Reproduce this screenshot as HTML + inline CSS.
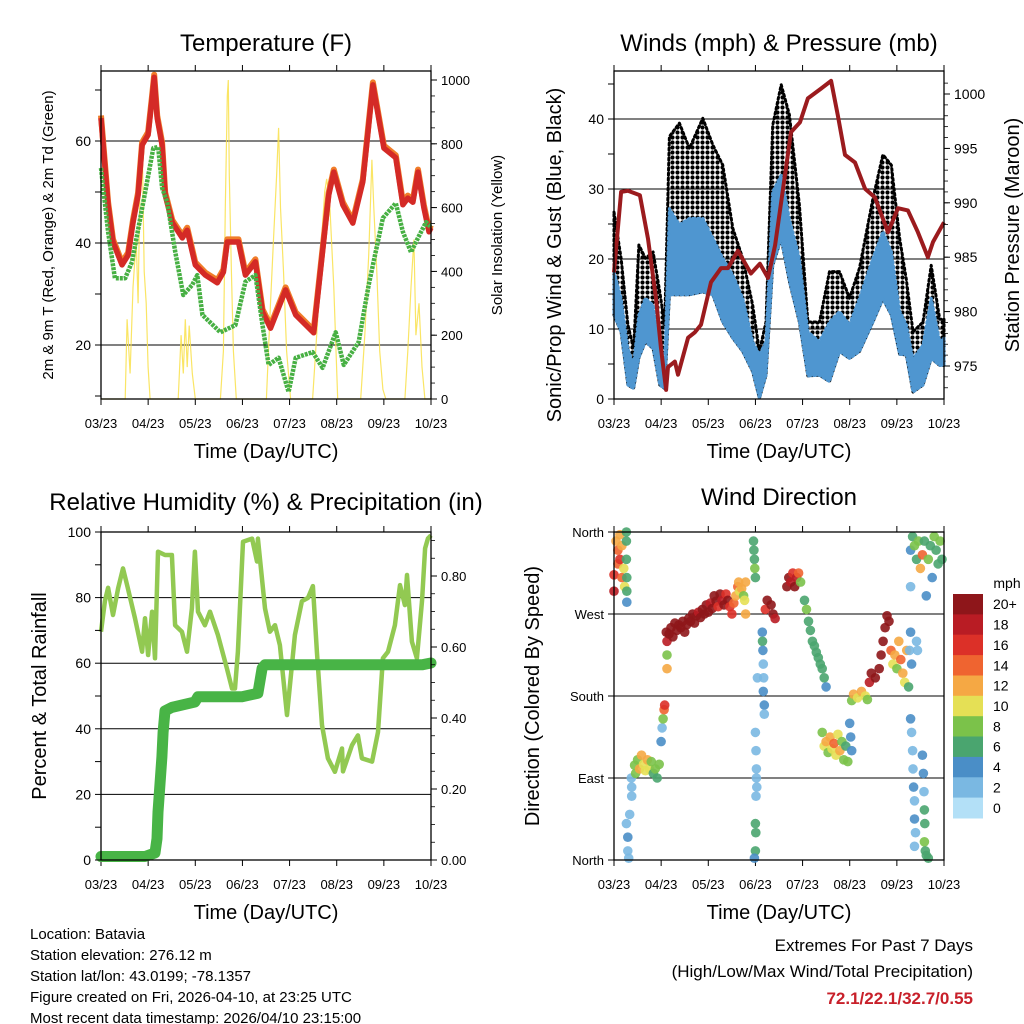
<!DOCTYPE html>
<html><head><meta charset="utf-8">
<style>
html,body{margin:0;padding:0;background:#fff;}
svg{display:block;font-family:"Liberation Sans",Arial,sans-serif;}
</style></head>
<body>
<svg id="chart" width="1024" height="1024" viewBox="0 0 1024 1024" xmlns="http://www.w3.org/2000/svg">
<defs>
<pattern id="dotpat" width="5" height="5" patternUnits="userSpaceOnUse">
<circle cx="2.5" cy="2.5" r="2.1" fill="#000"/>
</pattern>
</defs>
<rect x="0" y="0" width="1024" height="1024" fill="#fff"/>
<g id="layer"></g>
<g font-size="15" fill="#000">
<text x="30" y="939">Location: Batavia</text>
<text x="30" y="960">Station elevation: 276.12 m</text>
<text x="30" y="981">Station lat/lon: 43.0199; -78.1357</text>
<text x="30" y="1002">Figure created on Fri, 2026-04-10, at 23:25 UTC</text>
<text x="30" y="1023">Most recent data timestamp: 2026/04/10 23:15:00</text>
</g>
<g text-anchor="end">
<text x="973" y="951" font-size="17">Extremes For Past 7 Days</text>
<text x="973" y="977" font-size="17">(High/Low/Max Wind/Total Precipitation)</text>
<text x="973" y="1004" font-size="17" font-weight="bold" fill="#c8202a">72.1/22.1/32.7/0.55</text>
</g>
</svg>
<script>
// ---------- DATA (hours since start, 0..168) ----------
const dayLabels = ["03/23","04/23","05/23","06/23","07/23","08/23","09/23","10/23"];
const tempHours = [0,3.6,6.1,10.7,13.8,16.3,18.9,20.9,24,26,27.1,28.6,31.1,32.7,36.3,41.4,43.9,48,53.1,59.2,62.3,64.3,70,73.5,78.6,82.2,86.3,94,99.1,108.3,115.9,118.5,123.1,128.2,133.3,138.4,144,150.1,153.7,156.2,158.8,161.4,164.4,167,168];
const tempValues = [64.5,47.5,40.2,35.7,37.6,44,49.4,59.2,61.2,68.4,72.5,64.5,59.2,49.4,44,41,42.5,35.7,33.7,32.2,34.3,40.2,40.2,33.7,36.3,26.5,23.3,30.8,25.9,22.4,49.4,53.9,47.5,43.9,52,71,58.6,56.7,47.5,48.8,48,53.9,46.9,42.2,43];
const dewHours = [0,3.6,7.1,12.3,15.8,22.5,26.6,29.1,31.1,33.7,37.8,41.9,46.5,49,51.6,60.8,68.4,73.5,78.6,82.2,85.3,90.4,95.5,99.1,107.7,112.8,119.5,123.6,131.2,136.3,140.9,143.5,150.1,153.7,157.8,161.4,165.5,167,168];
const dewValues = [54.7,42.2,33.1,33.1,36.3,50,58.6,58.8,50.8,48,38.2,29.8,31.8,33.7,25.9,22.5,23.9,32.4,33.7,23.9,16.1,17.5,10.8,17.5,18.6,15.5,22.5,16.1,20.6,31.8,40.2,44.9,47.8,42.2,38.2,41,44.1,43.5,43];
const solarHours = [0,12.3,13.3,14.8,16.3,17.9,18.9,19.9,20.9,22,23,24,25,39.3,40.8,41.9,42.9,43.9,44.9,46.5,48,60.8,62.3,63.3,64.3,64.8,65.3,66.4,67.4,68.9,84.2,86.3,87.8,89.4,90.4,91.4,92.9,94.5,96.5,107.7,110.3,112.3,113.9,114.9,116.4,118.5,120.5,132.2,134.3,136.3,137.9,138.9,140.4,141.9,143.5,145,154.7,156.2,157.8,159.3,160.3,161.9,163.4,164.9,168];
const solarValues = [0,0,250,80,350,500,300,700,820,400,300,100,0,0,200,80,250,100,230,80,0,0,150,600,950,1000,700,400,150,0,0,300,500,700,850,600,400,150,0,0,250,500,650,690,620,350,0,0,200,450,750,600,400,150,30,0,0,150,350,500,200,300,100,0,0];

const windHours = [0,3.6,7.1,10,12.7,16,19.9,23.3,25.8,28.2,33.3,38.4,45.2,50.3,55.4,60.5,65.5,70.6,74,77.4,80.8,85.1,89.3,94.4,98.7,104.6,109.7,114.8,119.9,125,131.8,136.9,141.2,145.4,148.8,152.2,157.3,161.5,165.8,168];
const windLow  = [12,9.6,2,1.5,5.9,8.2,7.2,2,1.5,14.9,14.9,14.9,15.3,14.9,11,8.7,6.8,3.9,0.1,3.4,19.1,22.9,16.8,11,3.3,3.4,2.5,6.8,5.8,6.8,11,14.3,12,6.4,6.3,1,2,5.8,4.8,4.8];
const windHigh = [18.2,14.4,7.2,4.9,12,14.4,13.4,7.2,4.9,27.2,24.9,25.8,25.8,23,20.1,17.7,14.4,8.2,6.3,8.2,29.6,32,25.7,20.1,9.6,8.2,11,12.5,10.6,14.4,20.1,23.9,21,12.6,10.6,5.7,7.7,14.4,8.2,8.7];
const gustHigh = [26.7,20.1,10.6,7.2,22,20.1,21,15.3,10.6,37.5,39.4,35.8,40.1,36.3,33.4,24.4,20.1,13.4,6.8,11,39.1,44.9,40.6,27.7,11,11,18.2,18.2,14.4,18.7,28.6,34.9,33.4,23,17.1,9.6,11,19.1,11.4,11.4];
const presHours = [0,3.6,7.1,13.2,17.3,21.4,23.9,26.5,27.5,31,32.6,37.7,41.2,44.3,49.4,54.5,58,63.1,69.7,74.3,78.4,82,87,90.1,94.7,98.7,105.4,110.5,114,117.6,122.7,127.8,132.8,139.5,144.6,149.6,154.7,159.8,162.4,166.4,168];
const presValues = [983.6,991,991.1,990.7,986.7,981.2,976.7,972.8,974.9,975.4,974.2,977.6,978.1,978.8,982.7,984,984,985.6,983.5,984.4,983.1,986.1,992.5,996.5,997.4,999.6,1000.5,1001.2,998,994.4,993.7,991.3,990.5,987.3,989.5,989.3,987.3,985,986.4,987.7,988.2];

const rhHours = [0,2,3.6,6.1,8.7,11.2,13.7,17.3,20.9,22.4,24,26,27.5,29,32.6,36.1,37.7,41.2,43.8,46.3,47.8,49.4,52.9,55.5,59.5,64.1,66.7,68.2,69.7,72.3,76.9,79.4,79.9,83.5,86,88.6,91.1,94.7,98.7,102.3,105.4,107.9,109.9,112.5,115.5,119.1,122.7,123.2,127.8,130.8,132.8,138,141,143.5,146.1,149.6,152.2,154.7,155.8,158.3,160.8,163.4,165,166.4,168];
const rhValues = [69.6,78.9,83,74.7,82.8,88.9,82.8,73.7,63.5,73.7,62.5,75.7,61.5,94,93,93,71.6,69.6,63.5,76.7,94,75.7,71.6,75.7,68.6,58.4,52.3,52.3,63.5,97,98,91,98,76.7,69.6,71.6,65.5,44.2,68.6,78.9,79.9,83.5,63.5,41.1,31,26.9,34,27,35,38,31,30,39,61.5,63.5,71.6,83.8,77.7,86.9,66.6,61.5,78.9,95,98,99];
const rainHours = [0,22.4,27.5,28.5,29,31,31.6,32.6,36.1,47.8,49.4,71.8,79.9,82,83.5,163.4,168];
const rainValues = [0.01,0.01,0.02,0.06,0.135,0.29,0.36,0.42,0.43,0.445,0.46,0.46,0.47,0.54,0.55,0.55,0.555];

const dirHours = [0,0,1,2,2,3,3,4,4,5,5.4,6.3,6.3,6.5,6.5,6.5,6.3,
 6.3,7,7,7.5,8,8.8,9,9,
 10.5,11,12,13,14,15,16,17,18,19,20,21,22,23,24,24.5,25,25.5,25.8,
 26.6,27,27,27,28,29,30,31,32,33,34,35,36,37,38,39,40,41,42,43,44,45,46,47,48,49,50,51,52,53,54,55,56,57,58,59,60,61,62,63,63.5,64,65,66,66.5,67,67,
 71,71.2,71.5,71.7,72,72,72.3,72.5,72.5,72.7,72.3,72,72.2,72,71.5,73,75.5,75.6,75.8,76,76.2,76,76.5,76.5,77,78,80,81,82,
 88,89,90,91,92,93,94,95,97,98,99,100,101,102,103,104,105,106,107,108,
 106,107,108,109,110,111,112,113,114,115,116,117,118,119,120,120.5,121,
 121,122,124,126,128,129,130,131,133,135,136,137,138,139,140,141,142,143,144,145,146,147,148,149,150,
 150.5,151,151.5,154,154.5,151,151.5,152,152.2,152.5,153,153,153.5,153,157,157.5,157.8,158,158.2,158,158.5,159,160,151,151,152,153,154,155,156,157,158,159,160,161,162,163,164,165,166,167];
const dirDegrees = [313,295,350,340,325,357,330,310,345,320,300,350,330,310,295,283,360,
 40,25,10,2,50,90,70,80,
 104,95,110,100,115,105,98,110,100,108,95,100,90,105,130,145,155,165,170,
 250,240,225,210,248,255,245,260,252,258,255,262,250,258,265,262,270,260,268,272,266,275,270,280,272,282,276,290,284,278,292,285,280,292,285,278,270,282,290,300,305,295,298,290,285,270,305,
 350,340,330,320,310,140,120,100,90,80,70,40,30,10,2,200,250,240,230,215,200,185,170,160,275,285,280,270,265,
 300,310,305,315,300,310,315,305,285,275,262,252,240,235,228,222,215,210,200,190,
 140,125,130,118,135,122,128,115,138,120,130,110,125,108,150,135,120,
 175,182,178,185,180,176,195,205,200,210,225,240,255,268,262,230,215,225,210,240,220,205,195,230,190,
 230,250,215,240,230,155,140,120,100,80,65,45,30,15,115,95,75,55,40,20,10,5,2,340,300,355,345,330,350,320,335,350,290,330,345,310,355,340,325,350,330];
const dirSpeeds = [17,18,12,14,15,13,16,15,12,11,10,6,6,6,6,4,7,
 3,4,3,3,2,2,2,3,
 8,8,9,12,13,11,10,12,10,9,7,8,6,8,5,3,9,15,16,
 20,18,8,12,20,20,20,20,20,20,20,20,20,20,20,20,20,20,20,18,20,20,20,20,20,18,20,20,20,16,20,18,20,16,20,16,16,14,12,14,12,10,12,8,10,12,12,
 6,6,6,8,6,2,2,2,2,2,2,6,6,6,4,2,4,6,4,2,2,4,4,2,16,20,20,20,18,
 20,20,18,16,20,18,14,8,6,8,6,6,6,6,6,6,6,6,6,4,
 8,10,12,8,12,10,14,10,10,12,8,8,6,8,4,4,4,
 8,12,10,13,10,8,18,20,20,20,20,20,20,20,20,14,10,12,8,13,14,12,10,12,6,
 2,4,4,2,2,4,2,2,2,4,2,4,2,2,4,4,2,6,6,8,6,6,6,4,2,6,8,6,8,12,14,6,4,8,6,4,8,6,6,8,6];
const speedBins = ["20+","18","16","14","12","10","8","6","4","2","0"];
const speedColors = ["#8e161a","#b91c24","#dc3028","#ef6430","#f5a844","#e5e055","#7bc24a","#4aa56f","#4a8ec7","#7ab8e2","#b3e0f7"];

// ---------- helpers ----------
const NS = "http://www.w3.org/2000/svg";
const layer = document.getElementById("layer");
function mk(tag, attrs, parent){
  const e = document.createElementNS(NS, tag);
  for (const k in attrs) e.setAttribute(k, attrs[k]);
  (parent||layer).appendChild(e);
  return e;
}
function linear(d0,d1,r0,r1){ return v => r0 + (v-d0)*(r1-r0)/(d1-d0); }
function pathFrom(xs, ys, sx, sy){
  let d = "";
  for (let i=0;i<xs.length;i++) d += (i?"L":"M") + sx(xs[i]).toFixed(1) + "," + sy(ys[i]).toFixed(1);
  return d;
}
function txt(x,y,s,size,anchor,parent,rot){
  const t = mk("text",{x:x,y:y,"font-size":size,"text-anchor":anchor||"middle",fill:"#000"},parent);
  if (rot) t.setAttribute("transform","rotate("+rot+" "+x+" "+y+")");
  t.textContent = s;
  return t;
}

function panel(name, x0,y0,x1,y1, title, titleY){
  const g = mk("g",{});
  
  
  const t = txt((x0+x1)/2, titleY, title, 24, "middle", g);
  
  
  const sx = linear(0,168,x0,x1);
  const xa = mk("g",{},g);
  
  
  for (let i=0;i<dayLabels.length;i++){
    const x = sx(i*24);
    mk("line",{x1:x,y1:y0,x2:x,y2:y0-6,stroke:"#000","stroke-width":1},xa);
    mk("line",{x1:x,y1:y1,x2:x,y2:y1+6,stroke:"#000","stroke-width":1},xa);
    const lab = txt(x, y1+29, dayLabels[i], 13, "middle", xa);
    
    
  }
  const xt = txt((x0+x1)/2, y1+59, "Time (Day/UTC)", 20, "middle", xa);
  
  
  return {g, sx};
}
function frame(g,x0,y0,x1,y1){
  const r = mk("rect",{x:x0,y:y0,width:x1-x0,height:y1-y0,fill:"none",stroke:"#000","stroke-width":1.3},g);
  
  
}
function yAxis(g, side, x, sy, ticks, labels, fmt, minor, size, name){
  const a = mk("g",{},g);
  
  
  const dir = side==="left"?-1:1;
  (minor||[]).forEach(v=>{ mk("line",{x1:x,y1:sy(v),x2:x+dir*4,y2:sy(v),stroke:"#000","stroke-width":0.8},a); });
  ticks.forEach(v=>{ mk("line",{x1:x,y1:sy(v),x2:x+dir*6,y2:sy(v),stroke:"#000","stroke-width":1},a); });
  labels.forEach(v=>{
    const l = txt(side==="left"? x-10 : x+10, sy(v)+5, fmt(v), size||14, side==="left"?"end":"start", a);
    
    
  });
}
function grid(g, x0,x1, sy, vals){
  vals.forEach(v=>{
    const l = mk("line",{x1:x0,x2:x1,y1:sy(v),y2:sy(v),stroke:"#000","stroke-width":1},g);
    
    
  });
}
function range(a,b,s){ const r=[]; for(let v=a; v<=b+1e-9; v+=s) r.push(+v.toFixed(4)); return r; }

// ---------- Panel 1: Temperature ----------
(function(){
  const x0=101,y0=71,x1=431,y1=399;
  const {g,sx} = panel("temperature-panel",x0,y0,x1,y1,"Temperature (F)",51);
  const sy = linear(20,60,345,141);
  const ss = linear(0,1000,399,80);
  grid(g,x0,x1,sy,[20,40,60]);
  const sol = mk("path",{d:pathFrom(solarHours,solarValues,sx,ss),fill:"none",stroke:"#f9e04a","stroke-width":1.2,opacity:0.85},g);
  
  
  const t9 = mk("path",{d:pathFrom(tempHours,tempValues.map(v=>v+0.5),sx,sy),fill:"none",stroke:"#f07d2a","stroke-width":6,"stroke-linejoin":"round"},g);
  
  
  const t2 = mk("path",{d:pathFrom(tempHours,tempValues,sx,sy),fill:"none",stroke:"#d42a26","stroke-width":5.5,"stroke-linejoin":"round"},g);
  
  
  const td = mk("path",{d:pathFrom(dewHours,dewValues,sx,sy),fill:"none",stroke:"#47b043","stroke-width":4.5,"stroke-dasharray":"3 1","stroke-linejoin":"round"},g);
  
  
  frame(g,x0,y0,x1,y1);
  yAxis(g,"left",x0,sy,range(10,70,10),[20,40,60],v=>String(v),[],14,"temp-y-axis");
  yAxis(g,"right",x1,ss,range(0,1000,200),range(0,1000,200),v=>String(v),range(0,1000,50),13,"solar-y-axis");
  const lt = txt(53,235,"2m & 9m T (Red, Orange) & 2m Td (Green)",15,"middle",g,-90);
  
  
  const rt = txt(502,235,"Solar Insolation (Yellow)",15,"middle",g,-90);
  
  
})();

// ---------- Panel 2: Winds & Pressure ----------
(function(){
  const x0=614,y0=71,x1=944,y1=399;
  const {g,sx} = panel("winds-panel",x0,y0,x1,y1,"Winds (mph) & Pressure (mb)",51);
  const sy = linear(0,40,399,119);
  const sp = linear(975,1000,366,94);
  grid(g,x0,x1,sy,[10,20,30,40]);
  function band(lo,hi,fill,stroke,op,name){
    let d = "";
    for (let i=0;i<windHours.length;i++) d += (i?"L":"M")+sx(windHours[i]).toFixed(1)+","+sy(hi[i]).toFixed(1);
    for (let i=windHours.length-1;i>=0;i--) d += "L"+sx(windHours[i]).toFixed(1)+","+sy(lo[i]).toFixed(1);
    const p = mk("path",{d:d+"Z",fill:fill,opacity:op,stroke:stroke,"stroke-width":3,"stroke-dasharray":stroke==="none"?"":"2 3","stroke-linecap":"round","stroke-linejoin":"round"},g);
    
    
  }
  band(windLow,gustHigh,"url(#dotpat)","#000",1,"gust-scatter-band");
  band(windLow,windHigh,"#4f96d0","#4f96d0",1,"wind-speed-band");
  const pr = mk("path",{d:pathFrom(presHours,presValues,sx,sp),fill:"none",stroke:"#9b1b1e","stroke-width":4,"stroke-linejoin":"round"},g);
  
  
  frame(g,x0,y0,x1,y1);
  yAxis(g,"left",x0,sy,range(0,45,5),[0,10,20,30,40],v=>String(v),[],14,"wind-y-axis");
  yAxis(g,"right",x1,sp,range(975,1000,5),range(975,1000,5),v=>String(v),range(973,1001,1),14,"pressure-y-axis");
  const lt = txt(561,255,"Sonic/Prop Wind & Gust (Blue, Black)",20,"middle",g,-90);
  
  
  const rt = txt(1019,235,"Station Pressure (Maroon)",20,"middle",g,-90);
  
  
})();

// ---------- Panel 3: RH & Precip ----------
(function(){
  const x0=101,y0=532,x1=431,y1=860;
  const {g,sx} = panel("humidity-panel",x0,y0,x1,y1,"Relative Humidity (%) & Precipitation (in)",510);
  const sy = linear(0,100,860,532);
  const sr = linear(0,0.8,860,576);
  grid(g,x0,x1,sy,[20,40,60,80]);
  const rh = mk("path",{d:pathFrom(rhHours,rhValues,sx,sy),fill:"none",stroke:"#92c952","stroke-width":4.5,"stroke-linejoin":"round"},g);
  
  
  const rn = mk("path",{d:pathFrom(rainHours,rainValues,sx,sr),fill:"none",stroke:"#48b446","stroke-width":11,"stroke-linejoin":"round","stroke-linecap":"round"},g);
  
  
  frame(g,x0,y0,x1,y1);
  yAxis(g,"left",x0,sy,range(0,100,10),range(0,100,20),v=>String(v),[],14,"humidity-y-axis");
  yAxis(g,"right",x1,sr,range(0,0.9,0.2),range(0,0.8,0.2),v=>v.toFixed(2),range(0,0.9,0.05),13,"rainfall-y-axis");
  const lt = txt(46,696,"Percent & Total Rainfall",20,"middle",g,-90);
  
  
})();

// ---------- Panel 4: Wind direction ----------
(function(){
  const x0=614,y0=532,x1=944,y1=860;
  const {g,sx} = panel("wind-direction-panel",x0,y0,x1,y1,"Wind Direction",505);
  const sy = linear(0,360,860,532);
  grid(g,x0,x1,sy,[90,180,270]);
  function colorFor(s){ let i = 10 - Math.floor(s/2); if (i<0) i=0; if (i>10) i=10; return speedColors[i]; }
  const pts = mk("g",{},g);
  
  
  for (let i=0;i<dirHours.length;i++){
    const c = mk("circle",{cx:sx(dirHours[i]).toFixed(1),cy:sy(dirDegrees[i]).toFixed(1),r:4.8,fill:colorFor(dirSpeeds[i]),opacity:0.9},pts);
    
    
  }
  frame(g,x0,y0,x1,y1);
  const names = ["North","East","South","West","North"];
  const a = mk("g",{},g);
  
  
  [0,90,180,270,360].forEach((v,i)=>{
    mk("line",{x1:x0,x2:x0-6,y1:sy(v),y2:sy(v),stroke:"#000"},a);
    const l = txt(x0-10,sy(v)+5,names[i],13,"end",a);
    
    
  });
  const lt = txt(539,696,"Direction (Colored By Speed)",20,"middle",g,-90);
  
  
  const cb = mk("g",{},g);
  
  
  const u = txt(1007,588,"mph",14,"middle",cb);
  
  
  const h = 224/speedBins.length;
  for (let i=0;i<speedBins.length;i++){
    const r = mk("rect",{x:953,y:(594+i*h).toFixed(1),width:30,height:(h+0.5).toFixed(1),fill:speedColors[i]},cb);
    
    
    const l = txt(993,594+i*h+h/2+5,speedBins[i],14,"start",cb);
    
    
  }
})();
</script>
</body></html>
